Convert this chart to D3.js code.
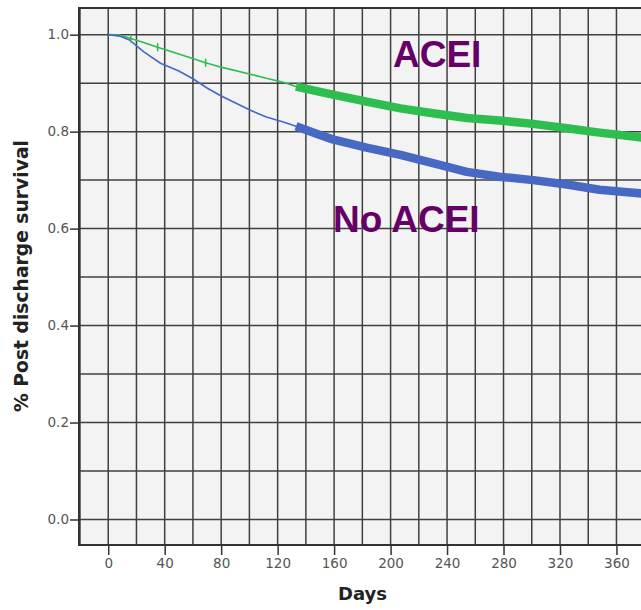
<!DOCTYPE html>
<html>
<head>
<meta charset="utf-8">
<script src="https://cdn.jsdelivr.net/npm/d3@7"></script>
<style>
  body { margin: 0; background: #fff; }
  svg { display: block; }
</style>
</head>
<body>
<svg id="chart"></svg>
<script>
// Kaplan-Meier readings (days, survival)
var acei = [[0,1.0],[8,0.999],[16,0.992],[25,0.984],[35,0.974],[50,0.96],[69,0.942],[80,0.933],[100,0.919],[112,0.910],[124,0.902],[133,0.893],
  [160,0.876],[183,0.862],[207,0.848],[230,0.838],[254,0.828],[277,0.823],[301,0.816],[325,0.807],[348,0.798],[372,0.790],[380,0.787]];
var noAcei = [[0,1.0],[8,0.997],[15,0.989],[25,0.965],[37,0.941],[50,0.925],[60,0.909],[70,0.89],[79,0.875],[88,0.862],[100,0.845],[112,0.830],[124,0.820],[133,0.811],
  [148,0.795],[159,0.784],[183,0.767],[207,0.752],[230,0.735],[254,0.717],[277,0.707],[301,0.700],[325,0.691],[348,0.680],[372,0.674],[380,0.672]];
var aceiCensor = [[16,0.992],[35,0.974],[69,0.942]];
var denseFrom = 133;   // censor marks pile up into a thick band after this day

var xTicks = [0,40,80,120,160,200,240,280,320,360];
var yTicks = [0.0,0.2,0.4,0.6,0.8,1.0];
var xGrid = d3.range(-20, 381, 20);
var yGrid = d3.range(0, 1.05, 0.1);

var W = 641, H = 610;
var svg = d3.select("#chart").attr("width", W).attr("height", H);

var x = d3.scaleLinear().domain([-20.7, 380]).range([79, 644.7]);
var y = d3.scaleLinear().domain([-0.0526, 1.055]).range([545, 8]);

// plot box (note: "top" is taken by window.top)
var pL = 79, pT = 8, pB = 545, pR = 660;

svg.append("rect").attr("x", pL).attr("y", pT)
  .attr("width", pR - pL).attr("height", pB - pT)
  .attr("fill", "#f3f3f3");

svg.append("clipPath").attr("id", "plot")
  .append("rect").attr("x", pL).attr("y", pT).attr("width", pR - pL).attr("height", pB - pT);

// grid
var grid = svg.append("g").attr("stroke", "#404040").attr("stroke-width", 1.5);
grid.selectAll("line.v").data(xGrid).enter().append("line")
  .attr("x1", function(d){ return x(d); }).attr("x2", function(d){ return x(d); })
  .attr("y1", pT).attr("y2", pB);
grid.selectAll("line.h").data(yGrid).enter().append("line")
  .attr("x1", pL).attr("x2", pR)
  .attr("y1", function(d){ return y(d); }).attr("y2", function(d){ return y(d); });

// frame
svg.append("path")
  .attr("d", "M" + pR + "," + pT + "H" + pL + "V" + pB + "H" + pR)
  .attr("fill", "none").attr("stroke", "#333").attr("stroke-width", 2);

// axes
var xAxis = svg.append("g").attr("transform", "translate(0," + pB + ")")
  .call(d3.axisBottom(x).tickValues(xTicks).tickSize(10).tickPadding(3).tickFormat(d3.format("d")));
var yAxis = svg.append("g").attr("transform", "translate(" + pL + ",0)")
  .call(d3.axisLeft(y).tickValues(yTicks).tickSize(9).tickPadding(1).tickFormat(d3.format(".1f")));
[xAxis, yAxis].forEach(function(a){
  a.select(".domain").remove();
  a.selectAll(".tick line").attr("stroke", "#333").attr("stroke-width", 1.5);
  a.selectAll(".tick text").attr("fill", "#555").style("font-family", "DejaVu Sans").style("font-size", "13.5px");
});

// curves
var line = d3.line().x(function(d){ return x(d[0]); }).y(function(d){ return y(d[1]); });
var curves = svg.append("g").attr("clip-path", "url(#plot)");
var series = [{data: acei, color: "#2ebd4f"}, {data: noAcei, color: "#4768c3"}];

series.forEach(function(s){
  curves.append("path").attr("d", line(s.data))
    .attr("fill", "none").attr("stroke", s.color).attr("stroke-width", 1.6);
  curves.append("path").attr("d", line(s.data.filter(function(d){ return d[0] >= denseFrom; })))
    .attr("fill", "none").attr("stroke", s.color).attr("stroke-width", 8.5)
    .attr("stroke-linejoin", "round");
});

curves.selectAll("line.censor").data(aceiCensor).enter().append("line")
  .attr("x1", function(d){ return x(d[0]); }).attr("x2", function(d){ return x(d[0]); })
  .attr("y1", function(d){ return y(d[1]) - 4; }).attr("y2", function(d){ return y(d[1]) + 4; })
  .attr("stroke", "#2ebd4f").attr("stroke-width", 1.6);

// group labels
var lab = svg.append("g").attr("fill", "#660066")
  .style("font-family", "Liberation Sans, Arial, sans-serif").style("font-weight", "bold").style("font-size", "37px");
lab.append("text").attr("x", 393).attr("y", 66.5).text("ACEI");
lab.append("text").attr("x", 333).attr("y", 231.5).text("No ACEI");

// axis titles
var yTitle = svg.append("text")
  .attr("transform", "translate(28,276) rotate(-90)")
  .attr("text-anchor", "middle")
  .attr("fill", "#222")
  .style("font-family", "DejaVu Sans").style("font-weight", "bold").style("font-size", "15px")
  .text("% Post discharge survival");
var s1 = 15 * 272 / yTitle.node().getComputedTextLength();
yTitle.style("font-size", s1 + "px");

svg.append("text")
  .attr("x", 362.5).attr("y", 600)
  .attr("text-anchor", "middle")
  .attr("fill", "#222")
  .style("font-family", "DejaVu Sans").style("font-weight", "bold").style("font-size", "18px")
  .text("Days");
</script>
</body>
</html>
